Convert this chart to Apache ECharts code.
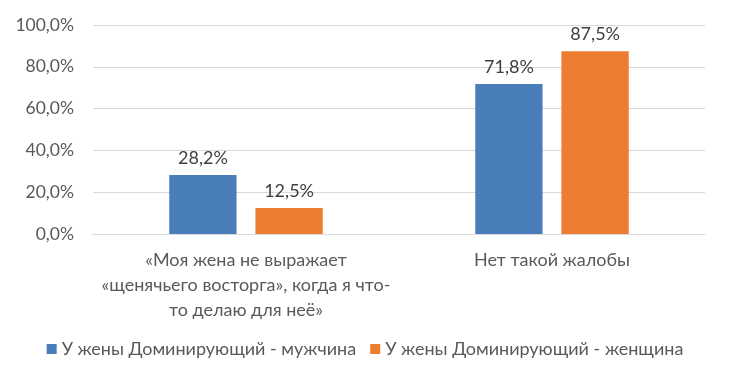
<!DOCTYPE html>
<html><head><meta charset="utf-8">
<script src="https://cdn.jsdelivr.net/npm/echarts@6/dist/echarts.min.js"></script>
<style>html,body{margin:0;padding:0;background:#fff}#c{width:730px;height:385px}</style>
</head><body><div id="c"></div>
<script>
const categories = ["«Моя жена не выражает\n«щенячьего восторга», когда я что-\nто делаю для неё»", "Нет такой жалобы"];
const seriesNames = ["У жены Доминирующий - мужчина", "У жены Доминирующий - женщина"];
const maleValues = [28.2, 71.8];
const femaleValues = [12.5, 87.5];
const yTicks = [0, 20, 40, 60, 80, 100];

const fmt = v => v.toFixed(1).replace('.', ',') + '%';
const font = 'Lato, "Open Sans", sans-serif';
const chart = echarts.init(document.getElementById('c'));
chart.setOption({
  animation: false,
  backgroundColor: '#fff',
  textStyle: {fontFamily: font},
  grid: {left: 93, right: 25, top: 25, bottom: 151},
  legend: {
    bottom: 22, left: 'center', itemWidth: 10, itemHeight: 10, itemGap: 14,
    icon: 'rect',
    textStyle: {color: '#595959', fontSize: 18, fontFamily: font},
    data: seriesNames
  },
  xAxis: {
    type: 'category', data: categories,
    axisTick: {show: false},
    axisLine: {lineStyle: {color: '#d9d9d9'}},
    axisLabel: {color: '#595959', fontSize: 18, lineHeight: 25, margin: 14, interval: 0, fontFamily: font}
  },
  yAxis: {
    type: 'value', min: yTicks[0], max: yTicks[yTicks.length - 1], interval: 20,
    axisLine: {show: false}, axisTick: {show: false},
    splitLine: {lineStyle: {color: '#d9d9d9'}},
    axisLabel: {color: '#595959', fontSize: 17.5, margin: 19, formatter: v => fmt(v), fontFamily: font}
  },
  series: [
    {name: seriesNames[0], type: 'bar', data: maleValues, barWidth: '22%', barGap: '28%',
     itemStyle: {color: '#4a7ebb'},
     label: {show: true, position: 'top', distance: 8, color: '#404040', fontSize: 18, formatter: p => fmt(p.value), fontFamily: font}},
    {name: seriesNames[1], type: 'bar', data: femaleValues, barWidth: '22%', barGap: '28%',
     itemStyle: {color: '#ed7d31'},
     label: {show: true, position: 'top', distance: 8, color: '#404040', fontSize: 18, formatter: p => fmt(p.value), fontFamily: font}}
  ]
});
</script></body></html>
